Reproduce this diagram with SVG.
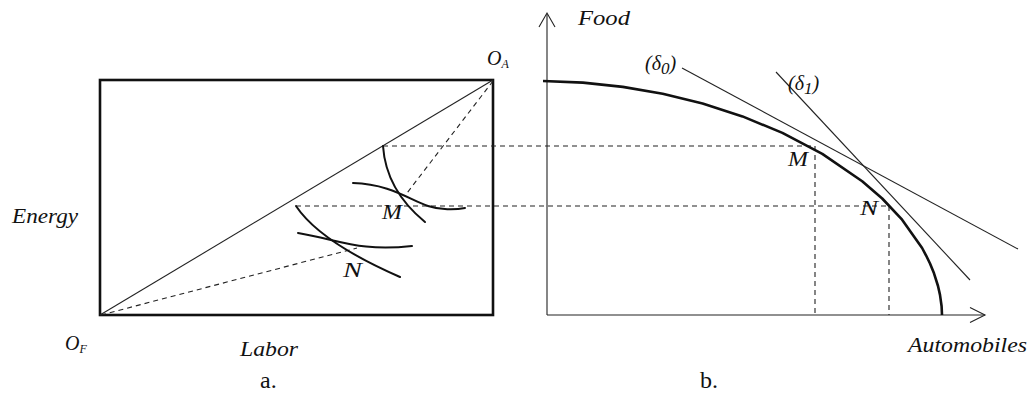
<svg xmlns="http://www.w3.org/2000/svg" width="1029" height="403" viewBox="0 0 1029 403">
<style>
.lbl{font-family:"Liberation Serif","Times New Roman",serif;font-style:italic;font-size:20px;fill:#111}
.cap{font-family:"Liberation Serif",serif;font-size:24px;fill:#111}
.thin{stroke:#222;stroke-width:1.1;fill:none}
.dash{stroke:#222;stroke-width:1.1;fill:none;stroke-dasharray:5 4}
.thick{stroke:#111;stroke-width:2.6;fill:none}
.iso{stroke:#111;stroke-width:2;fill:none;stroke-linecap:round}
</style>
<rect width="1029" height="403" fill="#fff"/>
<g id="panel-a">
  <rect x="100" y="80" width="393" height="235" class="thick"/>
  <line x1="100" y1="315" x2="493" y2="80" class="thin"/>
</g>
<g id="connectors">
  <line x1="101" y1="315" x2="357" y2="248" class="dash"/>
  <line x1="493" y1="81" x2="407" y2="193" class="dash"/>
  <line x1="383" y1="146" x2="815" y2="146" class="dash"/>
  <line x1="296" y1="206" x2="889" y2="206" class="dash"/>
  <line x1="815" y1="146" x2="815" y2="315" class="dash"/>
  <line x1="889" y1="206" x2="889" y2="315" class="dash"/>
</g>
<g id="isoquants">
  <path d="M383,146 Q386,190 425,222" class="iso"/>
  <path d="M353,183 C390,184 410,200 428,206 C440,210 455,210 465,208" class="iso"/>
  <path d="M296,206 Q320,242 400,277" class="iso"/>
  <path d="M298,233 C340,240 360,252 412,246" class="iso"/>
</g>
<g id="panel-b">
  <line x1="547" y1="14" x2="547" y2="315" class="thin" stroke-width="1.3"/>
  <polyline points="539,27 547,13 555,27" class="thin" stroke-width="1.3"/>
  <line x1="547" y1="315" x2="985" y2="315" class="thin" stroke-width="1.3"/>
  <polyline points="970,307.5 985,315 970,322.5" class="thin" stroke-width="1.3"/>
  <polyline class="thick" stroke-linejoin="round" points="543,81 582.9,82.6 622.8,86.9 662.7,93.8 702.6,103.6 742.5,116.4 782.4,132.9 822.3,153.9 862.2,181.2 882.2,198.5 902.1,219.7 922.1,248 926,255.3 930,263.5 934,273.3 938,286 940,294.9 941.6,306.3 942,315"/>
  <line x1="682" y1="68" x2="1018" y2="249" class="thin"/>
  <line x1="776" y1="72" x2="970" y2="280" class="thin"/>
</g>
<g id="labels">
  <text x="487" y="65" class="lbl" font-size="19">O<tspan font-size="12" dy="3">A</tspan></text>
  <text x="65" y="350" class="lbl" font-size="19">O<tspan font-size="12" dy="3">F</tspan></text>
  <text x="12" y="223" class="lbl" textLength="66" lengthAdjust="spacingAndGlyphs">Energy</text>
  <text x="240" y="356" class="lbl" textLength="58" lengthAdjust="spacingAndGlyphs">Labor</text>
  <text x="382" y="219" class="lbl" textLength="20" lengthAdjust="spacingAndGlyphs">M</text>
  <text x="343" y="277" class="lbl" textLength="19" lengthAdjust="spacingAndGlyphs">N</text>
  <text x="578" y="25" class="lbl" textLength="52" lengthAdjust="spacingAndGlyphs">Food</text>
  <text x="908" y="352" class="lbl" textLength="119" lengthAdjust="spacingAndGlyphs">Automobiles</text>
  <text x="788" y="166" class="lbl" textLength="20" lengthAdjust="spacingAndGlyphs">M</text>
  <text x="860" y="215" class="lbl" textLength="18" lengthAdjust="spacingAndGlyphs">N</text>
  <text x="645" y="70" class="lbl" font-size="24">(δ<tspan font-size="17" dy="4">0</tspan><tspan dy="-4">)</tspan></text>
  <text x="788" y="90" class="lbl" font-size="24">(δ<tspan font-size="17" dy="4">1</tspan><tspan dy="-4">)</tspan></text>
  <text x="260" y="388" class="cap">a.</text>
  <text x="700" y="388" class="cap">b.</text>
</g>
</svg>
